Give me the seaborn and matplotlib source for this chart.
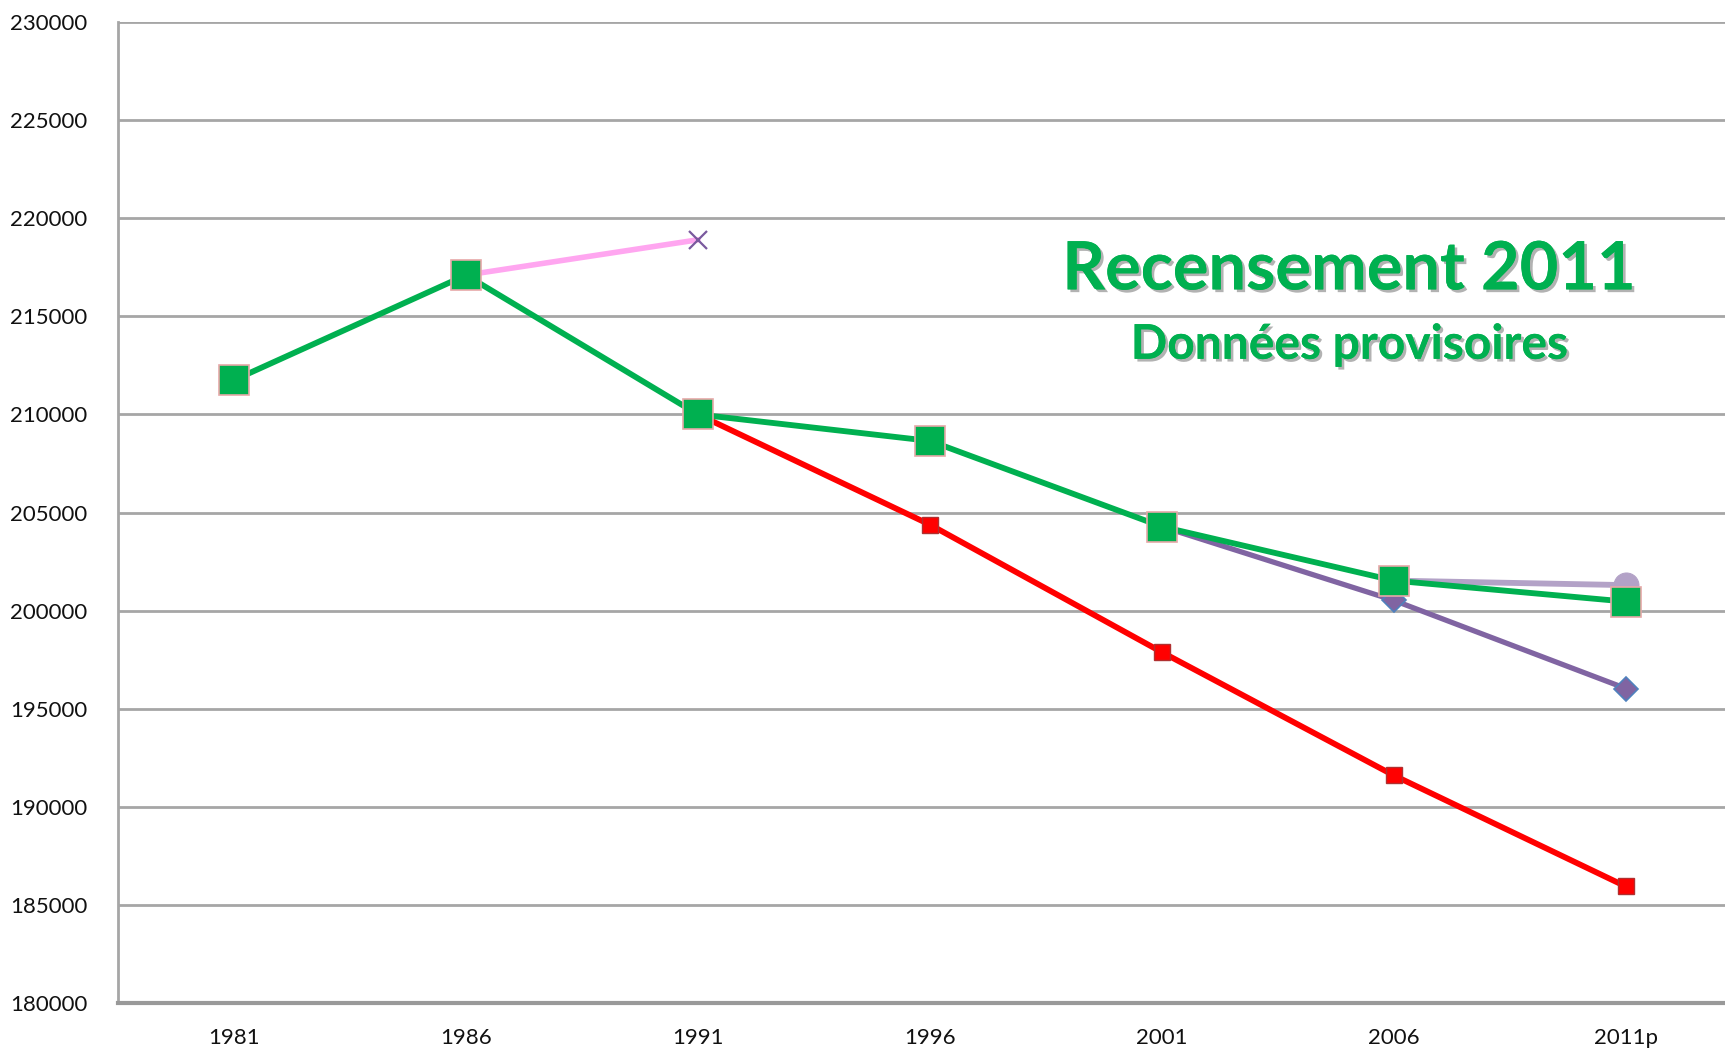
"""
Recensement 2011 - population evolution chart.
"""

import numpy as np
import pandas as pd
import matplotlib.pyplot as plt
import matplotlib.patheffects as pe
import seaborn as sns

years = ["1981", "1986", "1991", "1996", "2001", "2006", "2011p"]

# main series (green) over all census years
green_values = [211750, 217100, 210000, 208650, 204280, 201530, 200460]

# red projection from 1991
red_years = ["1991", "1996", "2001", "2006", "2011p"]
red_values = [210000, 204380, 197880, 191600, 185940]

# purple projection from 2001
purple_years = ["2001", "2006", "2011p"]
purple_values = [204280, 200520, 196030]

# light purple projection from 2006
lilac_years = ["2006", "2011p"]
lilac_values = [201530, 201300]

# pink projection from 1986
pink_years = ["1986", "1991"]
pink_values = [217100, 218900]

yticks = list(range(180000, 230001, 5000))


def _frame(series_years, values):
    pos = {y: i for i, y in enumerate(years)}
    return pd.DataFrame({"x": [pos[y] for y in series_years], "value": values})


def make_chart():
    sns.set_style("white")
    plt.rcParams["font.family"] = ["Lato", "DejaVu Sans"]

    fig = plt.figure(figsize=(17.25, 10.48), dpi=100)
    ax = fig.add_axes([0.0684, 0.0429, 0.9414, 0.9361])

    grid_color = "#a6a6a6"
    for v in yticks:
        ax.axhline(v, color=grid_color, lw=2, zorder=0)

    sns.lineplot(data=_frame(pink_years, pink_values), x="x", y="value", ax=ax,
                 color="#ffa6f0", lw=4, marker="x", markersize=13,
                 markeredgecolor="#7a5a9e", markeredgewidth=1.6, zorder=2)
    sns.lineplot(data=_frame(red_years, red_values), x="x", y="value", ax=ax,
                 color="#ff0000", lw=4.2, marker="s", markersize=12,
                 markerfacecolor="#ff0000", markeredgecolor="#b03030",
                 markeredgewidth=1, zorder=3)
    sns.lineplot(data=_frame(purple_years, purple_values), x="x", y="value", ax=ax,
                 color="#8064a2", lw=3.8, marker="D", markersize=12,
                 markerfacecolor="#8064a2", markeredgecolor="#4f81bd",
                 markeredgewidth=1.2, zorder=3)
    sns.lineplot(data=_frame(lilac_years, lilac_values), x="x", y="value", ax=ax,
                 color="#b3a2c7", lw=4.2, marker="o", markersize=18,
                 markerfacecolor="#b3a2c7", markeredgecolor="#b3a2c7",
                 zorder=3)
    sns.lineplot(data=_frame(years, green_values), x="x", y="value", ax=ax,
                 color="#00b050", lw=4.2, marker="s", markersize=22,
                 markerfacecolor="#00b050", markeredgecolor="#e6a8a8",
                 markeredgewidth=1.2, zorder=4)

    ax.set_xlim(-0.5, len(years) - 0.5)
    ax.set_ylim(180000, 230000)
    ax.set_xticks(range(len(years)))
    ax.set_xticklabels(years, fontsize=16, color="#111111")
    ax.set_yticks(yticks)
    ax.set_yticklabels([str(v) for v in yticks], fontsize=16, color="#111111")
    ax.tick_params(axis="both", length=0)
    ax.tick_params(axis="x", pad=18)
    ax.tick_params(axis="y", pad=22)
    ax.set_xlabel("")
    ax.set_ylabel("")

    for side in ["top", "right"]:
        ax.spines[side].set_visible(False)
    ax.spines["left"].set_color(grid_color)
    ax.spines["left"].set_linewidth(2)
    ax.spines["bottom"].set_color("#999999")
    ax.spines["bottom"].set_linewidth(3)

    shadow = [pe.withSimplePatchShadow(offset=(2, -2), shadow_rgbFace="#555555", alpha=0.45),
              pe.Normal()]
    fig.text(0.782, 0.742, "Recensement 2011", color="#00b050", fontsize=48,
             fontweight="bold", ha="center", va="center", path_effects=shadow)
    fig.text(0.782, 0.671, "Données provisoires", color="#00b050", fontsize=34.5,
             fontweight="bold", ha="center", va="center", path_effects=shadow)

    fig.savefig("out.png", dpi=100)
    plt.close(fig)


if __name__ == "__main__":
    make_chart()
